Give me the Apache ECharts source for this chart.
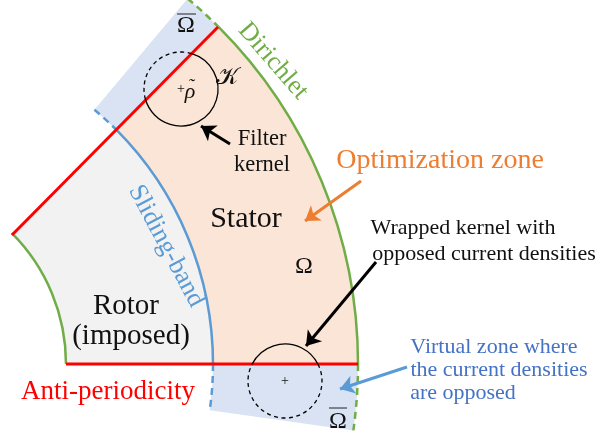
<!DOCTYPE html>
<html>
<head>
<meta charset="utf-8">
<style>
  html, body { margin: 0; padding: 0; background: #fff; }
  #chart { width: 595px; height: 435px; }
</style>
<script src="https://cdn.jsdelivr.net/npm/echarts@6/dist/echarts.min.js"></script>
</head>
<body>
<div id="chart"></div>
<script>
// axis units are measured from the centre of the machine, angles in degrees
const rotorRadius = 185;
const bandRadius = 332;
const statorRadius = 477;

// [inner radius, outer radius, from angle, to angle]
const rotorZone = [[rotorRadius, bandRadius, 0, 45]];
const statorZone = [[bandRadius, statorRadius, 0, 45]];
const virtualZones = [[bandRadius, statorRadius, 45, 50], [bandRadius, statorRadius, -8, 0]];

// [radius, from angle, to angle]
const greenSolid = [[rotorRadius, 0, 45], [statorRadius, 0, 45]];
const greenDashed = [[statorRadius, 45, 50], [statorRadius, -8, 0]];
const blueSolid = [[bandRadius, 0, 45]];
const blueDashed = [[bandRadius, 45, 50], [bandRadius, -8, 0]];

// [x0, y0, x1, y1]
const redEdges = [[185, 0, 477, 0], [131, 129, 337, 337]];
const overlines = [[296, 350, 315, 350], [448, -44, 466, -44]];

// [centre x, centre y, radius, from angle, to angle]
const kernelSolid = [[300, 275, 37, -164, 73], [404, -17, 37, 27, 153]];
const kernelDashed = [[300, 275, 37, 73, 196], [404, -17, 37, 153, 387]];

// [from x, from y, to x, to y]
const blackArrows = [[349, 220, 320, 238], [495, 102, 425, 18]];
const orangeArrows = [[480, 183, 424, 143]];
const blueArrows = [[526, -3, 459, -25]];

const blackLabels = [
  ['Rotor', 245, 58, 29], ['(imposed)', 250, 28, 29], ['Stator', 365, 145, 30],
  ['Filter', 381, 225, 22.5], ['kernel', 381, 199, 22.5],
  ['Wrapped kernel with', 582, 136, 22], ['opposed current densities', 603, 110, 22],
  ['Ω', 423, 97, 24], ['Ω', 305, 338, 24], ['Ω', 457, -58, 24],
  ['+', 300, 275, 14], ['+', 404, -17, 14], ['𝒦', 346, 286, 24]
];
const italicLabels = [['ρ', 309, 272, 22], ['˜', 310, 277, 18]];
const greenLabels = [['Dirichlet', 392, 303, 26, -49]];
const blueLabels = [['Sliding-band', 285, 118, 26, -62]];
const redLabels = [['Anti-periodicity', 227, -28, 27]];
const orangeLabels = [['Optimization zone', 559, 203, 28]];
const noteLabels = [['Virtual zone where', 613, 17, 22], ['the current densities', 618, -6, 22], ['are opposed', 582, -29, 22]];

const toRad = Math.PI / 180;

function sectorSeries(rows, color) {
  return {
    type: 'custom', coordinateSystem: 'cartesian2d', clip: false, silent: true, z: 1, data: rows,
    renderItem(params, api) {
      const c = api.coord([0, 0]);
      const r = rows[params.dataIndex];
      return {
        type: 'sector',
        shape: { cx: c[0], cy: c[1], r0: api.size([r[0], 0])[0], r: api.size([r[1], 0])[0],
          startAngle: -r[3] * toRad, endAngle: -r[2] * toRad, clockwise: true },
        style: { fill: color }
      };
    }
  };
}

function arcSeries(rows, color, dash, z) {
  return {
    type: 'custom', coordinateSystem: 'cartesian2d', clip: false, silent: true, z: z || 3, data: rows,
    renderItem(params, api) {
      const c = api.coord([0, 0]);
      const r = rows[params.dataIndex];
      return {
        type: 'arc',
        shape: { cx: c[0], cy: c[1], r: api.size([r[0], 0])[0],
          startAngle: -r[2] * toRad, endAngle: -r[1] * toRad, clockwise: true },
        style: { fill: null, stroke: color, lineWidth: 2.5, lineDash: dash || null }
      };
    }
  };
}

function kernelSeries(rows, dash) {
  return {
    type: 'custom', coordinateSystem: 'cartesian2d', clip: false, silent: true, z: 4, data: rows,
    renderItem(params, api) {
      const r = rows[params.dataIndex];
      const c = api.coord([r[0], r[1]]);
      return {
        type: 'arc',
        shape: { cx: c[0], cy: c[1], r: api.size([r[2], 0])[0],
          startAngle: -r[4] * toRad, endAngle: -r[3] * toRad, clockwise: true },
        style: { fill: null, stroke: '#000', lineWidth: 1.3, lineDash: dash || null }
      };
    }
  };
}

function segmentSeries(rows, color, width, z) {
  return {
    type: 'custom', coordinateSystem: 'cartesian2d', clip: false, silent: true, z: z, data: rows,
    renderItem(params, api) {
      const r = rows[params.dataIndex];
      const a = api.coord([r[0], r[1]]);
      const b = api.coord([r[2], r[3]]);
      return {
        type: 'line',
        shape: { x1: a[0], y1: a[1], x2: b[0], y2: b[1] },
        style: { stroke: color, lineWidth: width }
      };
    }
  };
}

function labelSeries(rows, color, fontStyle) {
  return {
    type: 'custom', coordinateSystem: 'cartesian2d', clip: false, silent: true, z: 6, data: rows,
    renderItem(params, api) {
      const r = rows[params.dataIndex];
      const p = api.coord([r[1], r[2]]);
      return {
        type: 'text', x: p[0], y: p[1], rotation: (r[4] || 0) * toRad,
        style: {
          text: r[0], fill: color, textAlign: 'center', textVerticalAlign: 'middle', verticalAlign: 'middle',
          font: (fontStyle || '') + ' ' + r[3] + 'px "Liberation Serif"'
        }
      };
    }
  };
}

function arrowSeries(rows, color) {
  return {
    type: 'line', data: [], z: 5, silent: true,
    markLine: {
      silent: true, animation: false, symbol: ['none', 'arrow'], symbolSize: 14,
      label: { show: false },
      lineStyle: { color: color, width: 3, type: 'solid' },
      data: rows.map(r => [{ coord: [r[0], r[1]] }, { coord: [r[2], r[3]] }])
    }
  };
}

const chart = echarts.init(document.getElementById('chart'));
chart.setOption({
  animation: false,
  backgroundColor: '#fff',
  grid: { left: 0, right: 0, top: 0, bottom: 0 },
  xAxis: { type: 'value', min: 119, max: 714, show: false },
  yAxis: { type: 'value', min: -71, max: 364, show: false },
  series: [
    sectorSeries(rotorZone, '#F2F2F2'),
    sectorSeries(statorZone, '#FBE5D6'),
    sectorSeries(virtualZones, '#DAE3F3'),
    arcSeries(greenSolid, '#70AD47'),
    arcSeries(greenDashed, '#70AD47', [7, 5]),
    arcSeries(blueSolid, '#5B9BD5'),
    arcSeries(blueDashed, '#5B9BD5', [7, 5]),
    segmentSeries(redEdges, '#FF0000', 3, 3),
    kernelSeries(kernelSolid),
    kernelSeries(kernelDashed, [4, 3.5]),
    segmentSeries(overlines, '#222', 1, 6),
    arrowSeries(blackArrows, '#000'),
    arrowSeries(orangeArrows, '#ED7D31'),
    arrowSeries(blueArrows, '#5B9BD5'),
    labelSeries(blackLabels, '#111'),
    labelSeries(italicLabels, '#111', 'italic'),
    labelSeries(greenLabels, '#70AD47'),
    labelSeries(blueLabels, '#5B9BD5'),
    labelSeries(redLabels, '#FF0000'),
    labelSeries(orangeLabels, '#ED7D31'),
    labelSeries(noteLabels, '#4472C4')
  ]
});
</script>
</body>
</html>
